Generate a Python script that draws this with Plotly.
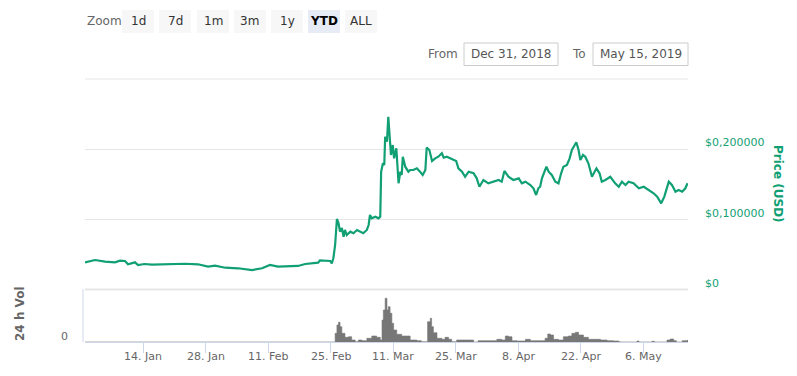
import pandas as pd
import plotly.graph_objects as go

# ---------------- data ----------------
START = pd.Timestamp("2019-01-01")

# price: days since 2019-01-01, USD
price_days = [0.0, 2.24, 4.48, 6.72, 7.84, 8.96, 9.63, 11.2, 11.87, 13.3, 15.0, 18.6, 22.4, 25.3,
              27.55, 29.1, 31.4, 34.3, 37.4, 39.65, 41.4, 43.2, 47.7, 49.3, 52.2, 52.6, 54.9, 55.25,
              55.6, 56.0, 56.4, 56.75, 57.1, 57.5, 57.9, 58.2, 58.6, 59.4, 60.1, 60.9, 61.6, 62.3,
              63.1, 63.5, 63.8, 64.2, 65.0, 65.7, 66.1, 66.3, 66.7, 67.0, 67.2, 67.6, 67.9, 68.3,
              68.5, 68.9, 69.2, 69.7, 70.2, 70.6, 70.9, 71.15, 71.7, 72.4, 72.8, 73.5, 74.3, 75.0,
              75.6, 76.2, 76.5, 77.1, 77.7, 78.4, 79.1, 79.9, 80.3, 81.0, 82.1, 83.1, 83.6, 84.4,
              85.1, 85.9, 87.0, 87.7, 88.3, 89.2, 90.3, 91.5, 92.6, 93.3, 93.9, 94.8, 95.9, 97.1,
              97.8, 98.6, 99.7, 100.4, 101.0, 101.5, 101.9, 102.3, 103.3, 103.8, 104.5, 105.3,
              106.0, 106.6, 107.1, 107.9, 108.5, 109.0, 109.4, 110.0, 110.5, 110.9, 111.5, 112.0,
              112.7, 113.5, 114.5, 115.2, 115.7, 116.5, 117.6, 118.7, 119.5, 120.2, 121.0, 121.7,
              122.8, 124.0, 125.1, 126.2, 127.3, 128.1, 129.0, 129.7, 130.1, 130.7, 131.4, 132.2,
              132.9, 133.7, 134.4, 134.9]
price_vals = [0.0381, 0.0414, 0.0390, 0.0381, 0.0404, 0.0400, 0.0353, 0.0381, 0.0343, 0.0357,
              0.0347, 0.0353, 0.0361, 0.0353, 0.0319, 0.0333, 0.0304, 0.0296, 0.0271, 0.0296,
              0.0343, 0.0319, 0.0329, 0.0357, 0.0376, 0.0410, 0.0400, 0.0367, 0.0439, 0.0629,
              0.1000, 0.0943, 0.0819, 0.0871, 0.0747, 0.0843, 0.0771, 0.0819, 0.0796, 0.0843,
              0.0819, 0.0796, 0.0843, 0.0914, 0.1057, 0.1010, 0.1033, 0.1010, 0.1033, 0.1676,
              0.1796, 0.1771, 0.2176, 0.2104, 0.2461, 0.2153, 0.1914, 0.2057, 0.1867, 0.2010,
              0.1510, 0.1676, 0.1629, 0.1890, 0.1747, 0.1676, 0.1700, 0.1700, 0.1724, 0.1676,
              0.1629, 0.1700, 0.2019, 0.1986, 0.1829, 0.1867, 0.1890, 0.1939, 0.1876, 0.1890,
              0.1857, 0.1829, 0.1724, 0.1676, 0.1604, 0.1676, 0.1653, 0.1581, 0.1461, 0.1557,
              0.1510, 0.1533, 0.1557, 0.1533, 0.1686, 0.1604, 0.1557, 0.1581, 0.1510, 0.1533,
              0.1486, 0.1439, 0.1343, 0.1439, 0.1461, 0.1581, 0.1747, 0.1676, 0.1629, 0.1533,
              0.1510, 0.1653, 0.1747, 0.1771, 0.1867, 0.1986, 0.2033, 0.2096, 0.1986, 0.1843,
              0.1914, 0.1890, 0.1796, 0.1604, 0.1724, 0.1653, 0.1533, 0.1557, 0.1604, 0.1510,
              0.1461, 0.1533, 0.1486, 0.1533, 0.1510, 0.1439, 0.1461, 0.1414, 0.1367, 0.1319,
              0.1224, 0.1319, 0.1414, 0.1533, 0.1486, 0.1390, 0.1414, 0.1390, 0.1439, 0.1510]

# 24h volume: days since 2019-01-01, relative units
vol_days = [0.0, 55.8, 56.0, 56.4, 56.75, 57.1, 57.5, 58.2, 59.0, 59.7, 60.5, 61.2, 62.0, 63.1,
            64.2, 65.3, 66.1, 66.5, 66.8, 67.2, 67.6, 67.9, 68.3, 68.7, 69.1, 69.8, 70.9, 72.0,
            72.8, 74.3, 75.3, 76.2, 76.7, 77.3, 77.6, 78.0, 78.8, 79.9, 80.6, 81.4, 82.1, 83.2,
            86.6, 87.0, 87.7, 88.0, 91.4, 92.2, 93.3, 94.1, 94.8, 95.6, 96.7, 98.6, 99.7, 101.9,
            103.0, 103.6, 104.2, 104.9, 106.0, 107.1, 108.2, 109.0, 109.8, 110.5, 111.6, 112.7,
            113.9, 115.4, 116.9, 118.3, 119.5, 119.8, 123.2, 123.6, 124.0, 126.6, 126.9, 127.5,
            129.7, 130.3, 131.0, 131.8, 132.4, 133.3, 133.7, 134.8, 135.0]
vol_vals = [0, 0, 8.7, 17, 19.7, 15.3, 8.7, 4.7, 5.3, 2, 0.3, 2, 1.3, 3.7,
            6, 4.7, 2, 22, 32, 43.7, 32, 35.3, 28.7, 18.7, 12, 7.7, 6, 6,
            2, 1.3, 0.3, 0.3, 20.3, 23.7, 15.3, 9.3, 3.7, 2.7, 4.7, 2.7, 0.3, 2,
            2, 0, 0, 1.3, 1.3, 2.7, 2, 6, 5.3, 1.3, 1, 2.7, 1.3, 1.3,
            3.7, 8, 7, 2.7, 2, 5.3, 6, 8.7, 9.7, 7, 4.7, 2.7,
            2.7, 2, 1.3, 1, 0.3, 0, 0, 1, 0, 0, 0.7, 0,
            0, 2, 3, 1.3, 0, 0, 1.3, 1.7, 1.7]

tick_dates = ["2019-01-14", "2019-01-28", "2019-02-11", "2019-02-25", "2019-03-11",
              "2019-03-25", "2019-04-08", "2019-04-22", "2019-05-06"]
tick_labels = ["14. Jan", "28. Jan", "11. Feb", "25. Feb", "11. Mar",
               "25. Mar", "8. Apr", "22. Apr", "6. May"]
price_ticks = [0, 0.1, 0.2]
price_tick_labels = ["$0", "$0,100000", "$0,200000"]
zoom_buttons = ["1d", "7d", "1m", "3m", "1y", "YTD", "ALL"]
selected_button = "YTD"
date_from = "Dec 31, 2018"
date_to = "May 15, 2019"

# ---------------- layout geometry ----------------
W, H = 797, 376
L, R, T, B = 85, 688, 79, 342
GREEN = "#119f74"
FONT = "DejaVu Sans"
X_RANGE = [START, START + pd.Timedelta(days=135)]
Y_MAX = 0.3
VOL_MAX = 52
PRICE_DOMAIN = [(B - 289) / (B - T), 1.0]
VOL_DOMAIN = [0, (B - 290) / (B - T)]


def px(x):
    return (x - L) / (R - L)


def py(y):
    return (B - y) / (B - T)


price_x = [START + pd.Timedelta(days=d) for d in price_days]
vol_x = [START + pd.Timedelta(days=d) for d in vol_days]

fig = go.Figure()
fig.add_trace(go.Scatter(x=vol_x, y=vol_vals, yaxis="y2", mode="lines",
                         line=dict(color="#777777", width=0.6, shape="hv"), fill="tozeroy",
                         fillcolor="#777777", hoverinfo="skip", showlegend=False))
fig.add_trace(go.Scatter(x=price_x, y=price_vals, yaxis="y", mode="lines",
                         line=dict(color=GREEN, width=2.2), showlegend=False))

shapes = []
annotations = []

# top grid line of the price pane
shapes.append(dict(type="line", xref="paper", yref="paper", x0=px(L), x1=px(R),
                   y0=py(T), y1=py(T), line=dict(color="#e6e6e6", width=1), layer="below"))
# volume pane border lines
shapes.append(dict(type="line", xref="paper", yref="paper", x0=px(L), x1=px(R),
                   y0=py(289.5), y1=py(289.5), line=dict(color="#e6e6e6", width=2)))
shapes.append(dict(type="line", xref="paper", yref="paper", x0=px(83), x1=px(83),
                   y0=py(289), y1=py(B), line=dict(color="#ccd6eb", width=1)))

# x tick labels
for d, t in zip(tick_dates, tick_labels):
    annotations.append(dict(x=pd.Timestamp(d), xref="x", y=py(356), yref="paper",
                            text=t, showarrow=False, xanchor="center", yanchor="middle",
                            font=dict(family=FONT, size=11, color="#666666")))

# price tick labels (right)
for v, t in zip(price_ticks, price_tick_labels):
    ypix = 289 - v / Y_MAX * (289 - T)
    annotations.append(dict(x=px(703), xref="paper", y=py(ypix - 6), yref="paper",
                            text=t, showarrow=False, xanchor="left", yanchor="middle",
                            font=dict(family=FONT, size=11, color=GREEN)))
annotations.append(dict(x=px(778), xref="paper", y=py(184), yref="paper", text="<b>Price (USD)</b>",
                        textangle=90, showarrow=False, xanchor="center", yanchor="middle",
                        font=dict(family=FONT, size=12, color=GREEN)))

# volume axis
annotations.append(dict(x=px(64), xref="paper", y=py(336), yref="paper", text="0",
                        showarrow=False, xanchor="center", yanchor="middle",
                        font=dict(family=FONT, size=11, color="#666666")))
annotations.append(dict(x=px(20), xref="paper", y=py(314), yref="paper", text="<b>24 h Vol</b>",
                        textangle=-90, showarrow=False, xanchor="center", yanchor="middle",
                        font=dict(family=FONT, size=12, color="#666666")))

# range selector
annotations.append(dict(x=px(85), xref="paper", y=py(21.5), yref="paper", text="Zoom",
                        showarrow=False, xanchor="left", yanchor="middle",
                        font=dict(family=FONT, size=12, color="#666666")))
btn_x0 = [122, 159, 197, 234, 271, 308, 345]
for x0, lab in zip(btn_x0, zoom_buttons):
    sel = lab == selected_button
    shapes.append(dict(type="rect", xref="paper", yref="paper", x0=px(x0), x1=px(x0 + 32),
                       y0=py(10), y1=py(33), fillcolor="#e6ebf5" if sel else "#f7f7f7",
                       line=dict(width=0), layer="below"))
    annotations.append(dict(x=px(x0 + 16), xref="paper", y=py(21.5), yref="paper",
                            text=f"<b>{lab}</b>" if sel else lab, showarrow=False,
                            xanchor="center", yanchor="middle",
                            font=dict(family=FONT, size=12, color="#000000" if sel else "#333333")))

# date inputs
annotations.append(dict(x=px(426), xref="paper", y=py(54), yref="paper", text="From",
                        showarrow=False, xanchor="left", yanchor="middle",
                        font=dict(family=FONT, size=12, color="#666666")))
annotations.append(dict(x=px(570), xref="paper", y=py(54), yref="paper", text="To",
                        showarrow=False, xanchor="left", yanchor="middle",
                        font=dict(family=FONT, size=12, color="#666666")))
for (x0, x1), txt in zip([(464, 558), (593, 688)], [date_from, date_to]):
    shapes.append(dict(type="rect", xref="paper", yref="paper", x0=px(x0), x1=px(x1),
                       y0=py(43), y1=py(65.5), fillcolor="white",
                       line=dict(color="#cccccc", width=1)))
    annotations.append(dict(x=px((x0 + x1) / 2), xref="paper", y=py(54), yref="paper", text=txt,
                            showarrow=False, xanchor="center", yanchor="middle",
                            font=dict(family=FONT, size=12, color="#555555")))

fig.update_layout(
    width=W, height=H,
    margin=dict(l=L, r=W - R, t=T, b=H - B, pad=0),
    paper_bgcolor="white", plot_bgcolor="white",
    font=dict(family=FONT, size=11, color="#666666"),
    showlegend=False,
    xaxis=dict(type="date", range=X_RANGE, anchor="y2", showgrid=False,
               tickvals=[pd.Timestamp(d) for d in tick_dates], ticktext=[""] * len(tick_dates),
               ticks="outside", ticklen=10, tickcolor="#ccd6eb", tickwidth=1,
               showline=True, linecolor="#ccd6eb", linewidth=1, zeroline=False, fixedrange=True),
    yaxis=dict(domain=PRICE_DOMAIN, range=[0, Y_MAX], side="right", anchor="x",
               tickvals=[0.1, 0.2, 0.3], showticklabels=False, showgrid=True,
               gridcolor="#e6e6e6", gridwidth=1, zeroline=False, showline=False, ticks=""),
    yaxis2=dict(domain=VOL_DOMAIN, range=[0, VOL_MAX], anchor="x", showgrid=False,
                showticklabels=False, zeroline=False, showline=False, ticks=""),
    shapes=shapes,
    annotations=annotations,
)

fig.write_html("out.html", config={"displayModeBar": False},
               post_script="document.body.style.margin='0';document.body.style.overflow='hidden';")
